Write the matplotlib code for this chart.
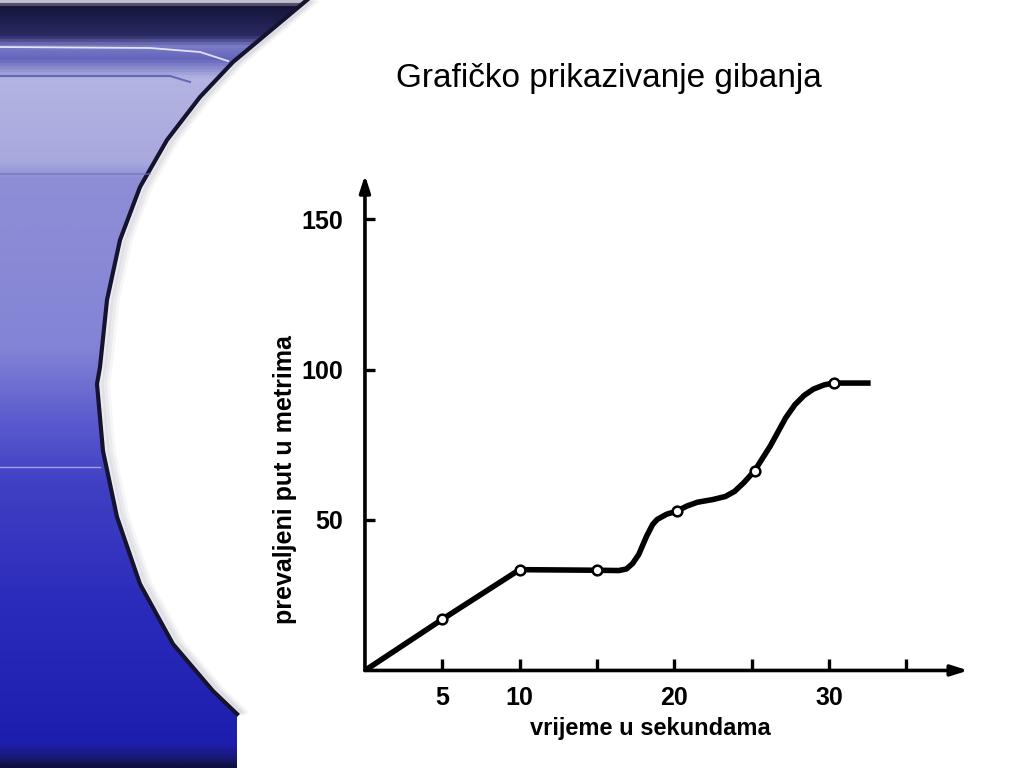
import numpy as np
import matplotlib
matplotlib.use("Agg")
import matplotlib.pyplot as plt
from matplotlib.colors import LinearSegmentedColormap
from matplotlib.patches import Polygon

# ── Data ───────────────────────────────────────────────────────────────────
t_curve = [0, 5, 10, 15, 16.4, 16.9, 17.3, 17.7, 18.2, 18.6, 18.9, 19.5,
           20.2, 20.8, 21.5, 22.5, 23.3, 23.9, 24.5, 25.2, 26.2, 27.2,
           27.8, 28.4, 29.0, 29.7, 30.3, 32.7]
s_curve = [0, 17, 33.5, 33.3, 33.2, 33.7, 35.5, 38.5, 44.5, 48.5, 50.2, 51.9,
           53, 54.6, 55.9, 56.8, 57.8, 59.5, 62.4, 66.4, 74.5, 83.9,
           88.3, 91.4, 93.5, 94.9, 95.5, 95.5]

t_marks = [5, 10, 15, 20.2, 25.2, 30.3]
s_marks = [17, 33.5, 33.3, 53, 66.4, 95.5]

x_ticks = [5, 10, 15, 20, 25, 30, 35]
x_labels = ["5", "10", "", "20", "", "30", ""]
y_ticks = [50, 100, 150]
y_labels = ["50", "100", "150"]

TITLE = "Grafičko prikazivanje gibanja"
XLABEL = "vrijeme u sekundama"
YLABEL = "prevaljeni put u metrima"

FONT = ["Liberation Sans", "DejaVu Sans"]

fig = plt.figure(figsize=(10.24, 7.68), dpi=100, facecolor="white")

# ── Slide background: blue swoosh on the left ──────────────────────────────
bg = fig.add_axes([0, 0, 1, 1], zorder=-1)
bg.set_xlim(0, 1024)
bg.set_ylim(768, 0)
bg.axis("off")

stops = [(0.0, "#c0c0cc"), (0.006, "#14143a"), (0.045, "#2a2a62"),
         (0.058, "#7c7cc8"), (0.075, "#6464bc"), (0.10, "#b4b4e2"),
         (0.21, "#a8a8de"), (0.23, "#8e8ed6"), (0.45, "#8484d6"),
         (0.55, "#5a5ace"), (0.63, "#4040c4"), (0.78, "#2c2cbc"),
         (0.97, "#1e1eae"), (0.99, "#181870"), (1.0, "#101040")]
cmap = LinearSegmentedColormap.from_list("slide", stops)
grad = np.linspace(0, 1, 512).reshape(-1, 1)
im = bg.imshow(grad, cmap=cmap, extent=(0, 330, 768, 0), aspect="auto")

edge_x = [307, 233, 200, 167, 140, 120, 107, 100, 97, 103, 117, 140, 173, 213, 237, 237]
edge_y = [0, 62, 97, 140, 187, 240, 300, 367, 384, 451, 517, 584, 644, 691, 714, 768]
clip = Polygon(list(zip(edge_x, edge_y)) + [(0, 768), (0, 0)], closed=True,
               transform=bg.transData)
im.set_clip_path(clip)

# soft shadow on the white side plus the dark rim
for off, a in [(10, 0.04), (7, 0.06), (4, 0.09)]:
    bg.plot(np.array(edge_x[:-1]) + off, edge_y[:-1], color="#303050",
            lw=4, alpha=a, solid_capstyle="butt")
bg.plot(edge_x[:-1], edge_y[:-1], color="#141430", lw=3)
bg.plot([0, 150, 200, 228], [47, 48, 52, 61], color="white", lw=1.3, alpha=0.8)
bg.plot([0, 170, 190], [76, 76, 82], color="#4a4aa8", lw=1.5, alpha=0.7)
bg.plot([0, 150], [174, 174], color="#7070c0", lw=1.2, alpha=0.7)
bg.plot([0, 100], [467, 467], color="#c8c8f0", lw=1.0, alpha=0.7)

fig.text(0.595, 0.898, TITLE, ha="center", va="center", fontsize=24,
         family=FONT, color="black")

# ── Graph ──────────────────────────────────────────────────────────────────
ax = fig.add_axes([0.3564, 0.127, 0.589, 0.645])
ax.patch.set_alpha(0)
ax.set_xlim(0, 39)
ax.set_ylim(0, 164.6)
for sp in ax.spines.values():
    sp.set_visible(False)

arrow = dict(arrowstyle="-|>,head_length=1.0,head_width=0.32", lw=2.6,
             color="black", shrinkA=0, shrinkB=0)
ax.annotate("", xy=(1, 0), xytext=(0, 0), xycoords="axes fraction",
            arrowprops=arrow)
ax.annotate("", xy=(0, 1), xytext=(0, 0), xycoords="axes fraction",
            arrowprops=arrow)

ax.plot(t_curve, s_curve, color="black", lw=4.0, solid_joinstyle="round",
        solid_capstyle="butt", zorder=3)
ax.plot(t_marks, s_marks, "o", ms=7, mfc="white", mec="black", mew=1.8,
        zorder=4)

ax.set_xticks(x_ticks)
ax.set_xticklabels(x_labels)
ax.set_yticks(y_ticks)
ax.set_yticklabels(y_labels)
ax.tick_params(axis="x", direction="in", length=8, width=2.4, pad=11,
               labelsize=18)
ax.tick_params(axis="y", direction="in", length=7, width=2.4, pad=16,
               labelsize=18)
for lab in ax.get_xticklabels() + ax.get_yticklabels():
    lab.set_fontweight("bold")
    lab.set_family(FONT)

ax.set_xlabel(XLABEL, fontsize=17, fontweight="bold", family=FONT)
ax.set_ylabel(YLABEL, fontsize=18, fontweight="bold", family=FONT)
ax.xaxis.set_label_coords(0.473, -0.093)
ax.yaxis.set_label_coords(-0.113, 0.385)

fig.savefig("out.png", dpi=100, facecolor="white")
